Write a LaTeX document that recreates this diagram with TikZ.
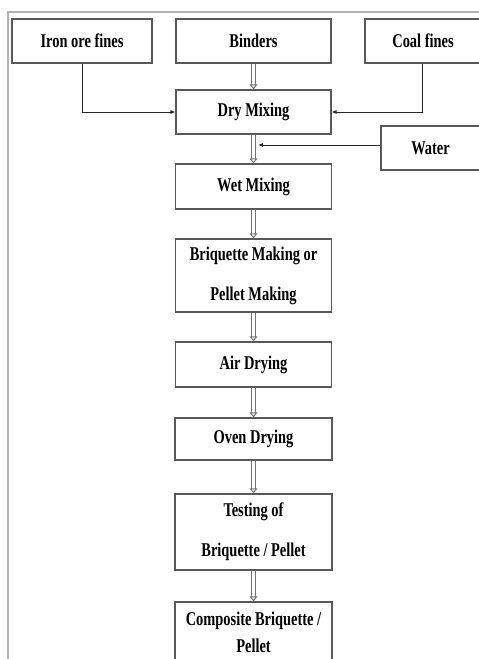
\documentclass[tikz,border=0pt]{standalone}
\usepackage{fontspec}
\setmainfont{Liberation Serif}[FakeStretch=0.74]
\usepackage{tikz}
\usetikzlibrary{arrows.meta, positioning, calc}

\begin{document}
\begin{tikzpicture}[
  x=1pt, y=-1pt,
  every node/.style={font=\bfseries\fontsize{19.5}{20}\selectfont},
  box/.style={draw=black!65, line width=1.2pt, minimum height=44pt,
              align=center, inner sep=2pt},
  tall/.style={box, font=\bfseries\fontsize{19.5}{40}\selectfont},
  arr/.style={-{Latex[length=5pt, width=4pt]}, line width=0.8pt, black!85},
  hollow/.style={double, double distance=3pt, line width=1pt, draw=black!55,
                 -{Triangle[open, length=5pt, width=8pt]}},
]
  \useasboundingbox (0,0) rectangle (479,659);
  \clip (0,0) rectangle (479,659);
  \draw[black!30, line width=1.3pt] (479,12) -- (8,12) -- (8,659);

  % inputs
  \node[box, minimum width=140pt] (iron) at (82,41) {Iron ore fines};
  \node[box, minimum width=155pt] (bind) at (253.5,41) {Binders};
  \node[box, minimum width=116pt] (coal) at (423,41) {Coal fines};
  \node[box, minimum width=99pt] (water) at (430.5,148) {Water};

  % main line
  \node[box, minimum width=155pt] (dry) at (253.5,112) {Dry Mixing};
  \node[box, minimum width=156pt, minimum height=45pt] (wet) at (253.5,186.5) {Wet Mixing};
  \node[tall, minimum width=156pt, minimum height=73pt] (brq) at (253.5,275.5)
       {Briquette Making or\\Pellet Making};
  \node[box, minimum width=156pt, minimum height=45pt] (air) at (253.5,364.5) {Air Drying};
  \node[box, minimum width=157pt, minimum height=42pt] (oven) at (253.5,439) {Oven Drying};
  \node[tall, minimum width=157pt, minimum height=76pt] (test) at (253.5,532)
       {Testing of\\Briquette / Pellet};
  \node[box, minimum width=157pt, minimum height=60pt,
        font=\bfseries\fontsize{19.5}{27}\selectfont] (comp) at (253.5,632)
       {Composite Briquette /\\Pellet};

  \draw[arr] (iron.south) |- (dry.west);
  \draw[arr] (coal.south -| 422,0) |- (dry.east);
  \coordinate (wjoin) at (258,145);
  \draw[arr] (water.west |- wjoin) -- (wjoin);

  \draw[hollow] (bind) -- (dry);
  \draw[hollow] (dry) -- (wet);
  \draw[hollow] (wet) -- (brq);
  \draw[hollow] (brq) -- (air);
  \draw[hollow] (air) -- (oven);
  \draw[hollow] (oven) -- (test);
  \draw[hollow] (test) -- (comp);
\end{tikzpicture}
\end{document}
